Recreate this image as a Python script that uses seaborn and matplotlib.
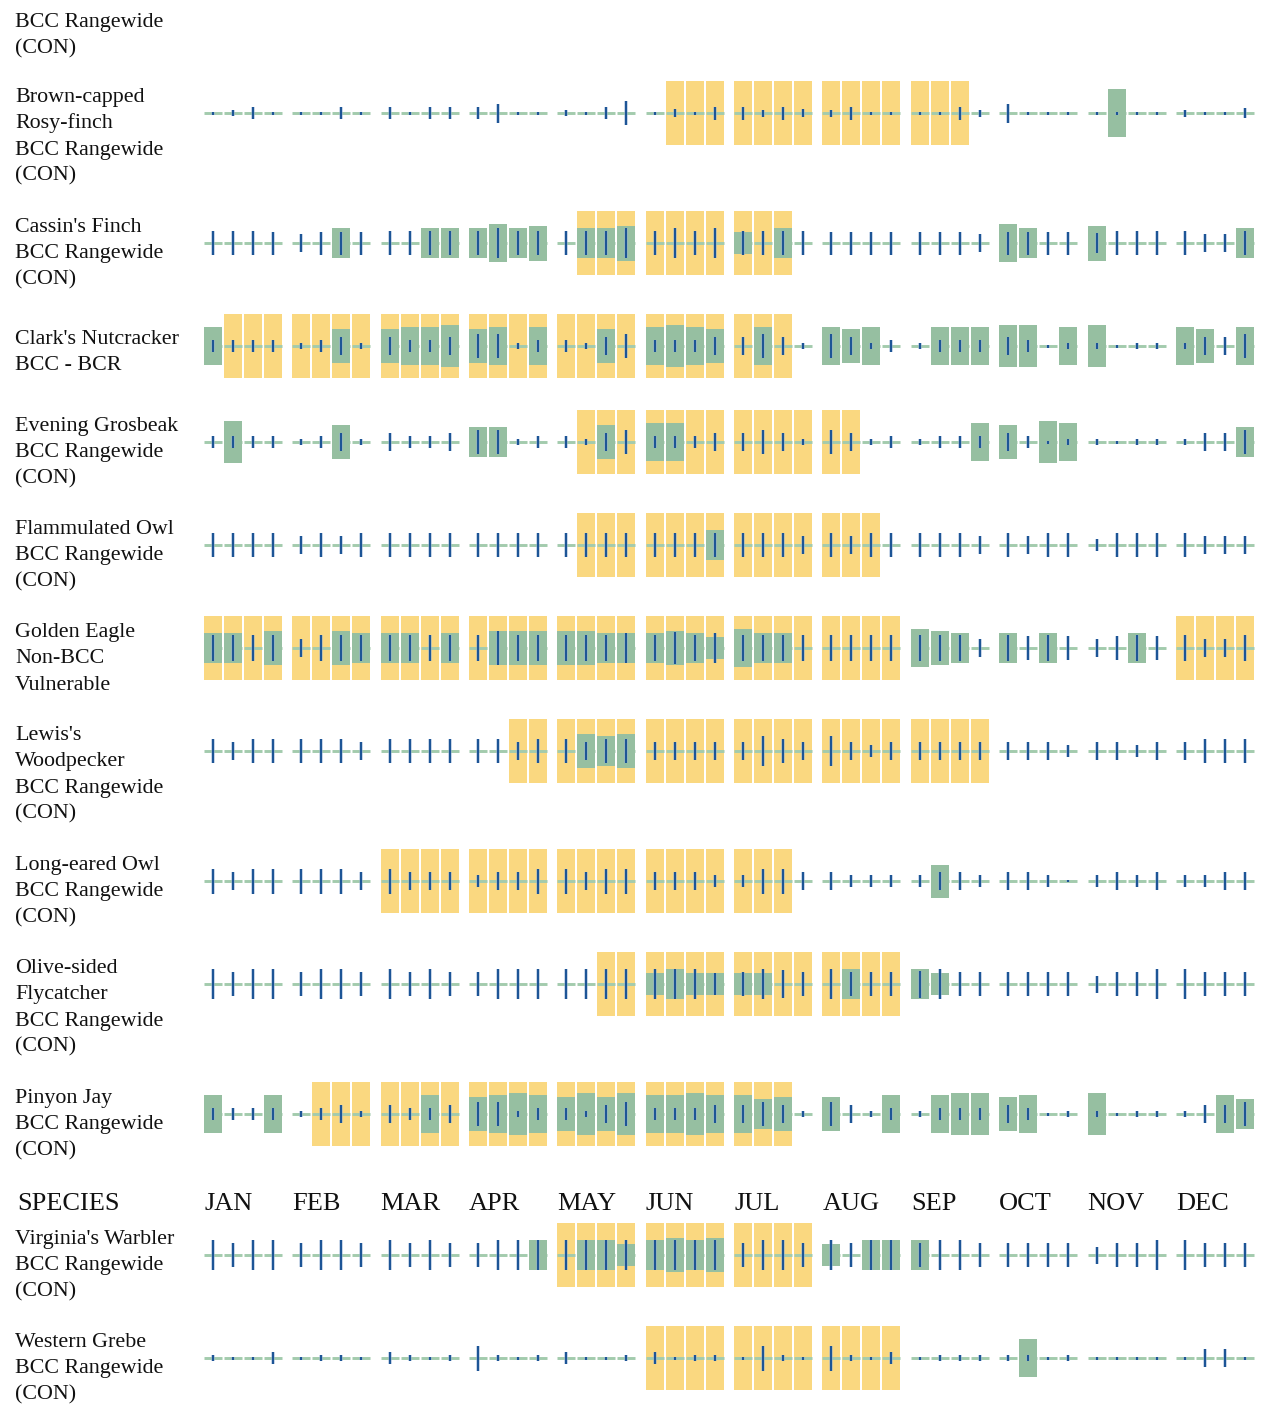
import numpy as np
import pandas as pd
import matplotlib
matplotlib.use("Agg")
import matplotlib.pyplot as plt
import seaborn as sns

# ---------------------------------------------------------------------------
# Data: 48 weeks per species (4 per month). Breeding = 1 marks breeding season,
# presence = height of the probability-of-presence bar, effort = survey-effort
# tick length (both on a 0..64 scale, 64 being the full cell height).
# ---------------------------------------------------------------------------
MONTHS = ["JAN", "FEB", "MAR", "APR", "MAY", "JUN",
          "JUL", "AUG", "SEP", "OCT", "NOV", "DEC"]

SPECIES_LABELS = [
    ["Brown-capped", "Rosy-finch", "BCC Rangewide", "(CON)"],
    ["Cassin's Finch", "BCC Rangewide", "(CON)"],
    ["Clark's Nutcracker", "BCC - BCR"],
    ["Evening Grosbeak", "BCC Rangewide", "(CON)"],
    ["Flammulated Owl", "BCC Rangewide", "(CON)"],
    ["Golden Eagle", "Non-BCC", "Vulnerable"],
    ["Lewis's", "Woodpecker", "BCC Rangewide", "(CON)"],
    ["Long-eared Owl", "BCC Rangewide", "(CON)"],
    ["Olive-sided", "Flycatcher", "BCC Rangewide", "(CON)"],
    ["Pinyon Jay", "BCC Rangewide", "(CON)"],
    ["Virginia's Warbler", "BCC Rangewide", "(CON)"],
    ["Western Grebe", "BCC Rangewide", "(CON)"],
]
CONTINUED_LABEL = ["BCC Rangewide", "(CON)"]

rosy_breeding = [0,0,0,0, 0,0,0,0, 0,0,0,0, 0,0,0,0, 0,0,0,0, 0,1,1,1,
                 1,1,1,1, 1,1,1,1, 1,1,1,0, 0,0,0,0, 0,0,0,0, 0,0,0,0]
rosy_presence = [0,0,0,0, 0,0,0,0, 0,0,0,0, 0,0,0,0, 0,0,0,0, 0,0,0,0,
                 0,0,0,0, 0,0,0,0, 0,0,0,0, 0,0,0,0, 0,48,0,0, 0,0,0,0]
rosy_effort = [3,6,12,3, 3,3,12,3, 12,3,12,12, 12,19,3,3, 6,3,12,24, 3,8,3,13,
               13,7,13,8, 7,13,3,3, 3,3,13,7, 19,3,3,3, 3,3,3,3, 7,3,3,10]

cassin_breeding = [0,0,0,0, 0,0,0,0, 0,0,0,0, 0,0,0,0, 0,1,1,1, 1,1,1,1,
                   1,1,1,0, 0,0,0,0, 0,0,0,0, 0,0,0,0, 0,0,0,0, 0,0,0,0]
cassin_presence = [0,0,0,0, 0,0,30,0, 0,0,30,30, 30,38,30,35, 0,30,30,35, 0,0,0,0,
                   22,0,30,0, 0,0,0,0, 0,0,0,0, 38,30,0,0, 35,0,0,0, 0,0,0,30]
cassin_effort = [24,24,24,23, 18,23,23,23, 24,24,24,24, 24,30,24,24, 24,24,24,30, 24,30,24,30,
                 24,24,24,24, 23,23,23,23, 23,23,23,18, 23,23,23,23, 20,24,24,24, 24,18,18,24]

clark_breeding = [0,1,1,1, 1,1,1,1, 1,1,1,1, 1,1,1,1, 1,1,1,1, 1,1,1,1,
                  1,1,1,0, 0,0,0,0, 0,0,0,0, 0,0,0,0, 0,0,0,0, 0,0,0,0]
clark_presence = [38,0,0,0, 0,0,34,0, 34,38,38,42, 34,38,0,38, 0,0,34,0, 38,42,38,34,
                  0,38,0,0, 38,34,38,0, 0,38,38,38, 42,42,0,38, 42,0,0,0, 38,34,0,38]
clark_effort = [12,12,12,12, 6,12,18,6, 18,12,12,18, 24,24,6,12, 12,6,18,24, 12,12,12,18,
                18,24,18,6, 24,18,6,12, 6,12,12,12, 18,12,3,6, 6,3,6,6, 6,18,18,24]

grosbeak_breeding = [0,0,0,0, 0,0,0,0, 0,0,0,0, 0,0,0,0, 0,1,1,1, 1,1,1,1,
                     1,1,1,1, 1,1,0,0, 0,0,0,0, 0,0,0,0, 0,0,0,0, 0,0,0,0]
grosbeak_presence = [0,42,0,0, 0,0,34,0, 0,0,0,0, 30,30,0,0, 0,0,34,0, 38,38,0,0,
                     0,0,0,0, 0,0,0,0, 0,0,0,38, 34,0,42,38, 0,0,0,0, 0,0,0,30]
grosbeak_effort = [12,12,12,12, 6,12,18,6, 18,12,12,18, 24,24,6,12, 12,6,18,24, 12,12,12,18,
                   18,24,18,6, 24,18,6,12, 6,12,12,12, 18,12,3,6, 6,3,6,6, 6,18,18,24]

owl_f_breeding = [0,0,0,0, 0,0,0,0, 0,0,0,0, 0,0,0,0, 0,1,1,1, 1,1,1,1,
                  1,1,1,1, 1,1,1,0, 0,0,0,0, 0,0,0,0, 0,0,0,0, 0,0,0,0]
owl_f_presence = [0,0,0,0, 0,0,0,0, 0,0,0,0, 0,0,0,0, 0,0,0,0, 0,0,0,30,
                  0,0,0,0, 0,0,0,0, 0,0,0,0, 0,0,0,0, 0,0,0,0, 0,0,0,0]
owl_f_effort = [24,24,24,24, 18,24,18,24, 24,24,24,24, 24,24,24,24, 24,24,24,24, 24,24,24,24,
                24,24,24,18, 24,18,24,24, 24,24,24,18, 24,18,24,24, 12,24,24,24, 24,18,18,18]

eagle_breeding = [1,1,1,1, 1,1,1,1, 1,1,1,1, 1,1,1,1, 1,1,1,1, 1,1,1,1,
                  1,1,1,1, 1,1,1,1, 0,0,0,0, 0,0,0,0, 0,0,0,0, 1,1,1,1]
eagle_presence = [30,30,0,34, 0,0,34,30, 30,30,0,30, 0,34,34,34, 34,34,30,30, 30,34,30,22,
                  38,30,30,0, 0,0,0,0, 38,34,30,0, 30,0,30,0, 0,0,30,0, 0,0,0,0]
eagle_effort = [26,26,26,26, 18,26,26,26, 26,26,26,26, 26,34,26,26, 26,26,26,30, 26,32,26,30,
                26,26,26,26, 26,26,26,26, 26,26,26,18, 26,24,26,24, 18,24,26,24, 26,18,18,26]

lewis_breeding = [0,0,0,0, 0,0,0,0, 0,0,0,0, 0,0,1,1, 1,1,1,1, 1,1,1,1,
                  1,1,1,1, 1,1,1,1, 1,1,1,1, 0,0,0,0, 0,0,0,0, 0,0,0,0]
lewis_presence = [0,0,0,0, 0,0,0,0, 0,0,0,0, 0,0,0,0, 0,34,30,34, 0,0,0,0,
                  0,0,0,0, 0,0,0,0, 0,0,0,0, 0,0,0,0, 0,0,0,0, 0,0,0,0]
lewis_effort = [24,18,24,24, 24,24,24,18, 24,24,24,24, 24,24,18,24, 24,18,24,24, 18,18,18,18,
                18,30,24,18, 30,18,12,18, 18,18,18,18, 18,18,18,12, 18,18,12,18, 18,24,24,24]

owl_le_breeding = [0,0,0,0, 0,0,0,0, 1,1,1,1, 1,1,1,1, 1,1,1,1, 1,1,1,1,
                   1,1,1,0, 0,0,0,0, 0,0,0,0, 0,0,0,0, 0,0,0,0, 0,0,0,0]
owl_le_presence = [0,0,0,0, 0,0,0,0, 0,0,0,0, 0,0,0,0, 0,0,0,0, 0,0,0,0,
                   0,0,0,0, 0,0,0,0, 0,33,0,0, 0,0,0,0, 0,0,0,0, 0,0,0,0]
owl_le_effort = [25,18,25,25, 25,25,25,18, 25,18,18,18, 12,18,18,25, 25,18,25,25, 18,18,18,12,
                 12,25,25,18, 18,12,12,12, 12,18,18,12, 18,18,12,2, 12,18,12,18, 12,12,18,18]

olive_breeding = [0,0,0,0, 0,0,0,0, 0,0,0,0, 0,0,0,0, 0,0,1,1, 1,1,1,1,
                  1,1,1,1, 1,1,1,1, 0,0,0,0, 0,0,0,0, 0,0,0,0, 0,0,0,0]
olive_presence = [0,0,0,0, 0,0,0,0, 0,0,0,0, 0,0,0,0, 0,0,0,0, 22,30,22,22,
                  22,22,0,0, 0,30,0,0, 30,22,0,0, 0,0,0,0, 0,0,0,0, 0,0,0,0]
olive_effort = [30,24,30,30, 24,30,30,24, 30,24,30,24, 24,30,30,30, 30,30,30,30, 30,30,30,22,
                24,30,28,24, 30,24,24,24, 27,30,24,24, 24,24,24,24, 17,24,24,30, 30,24,24,24]

pinyon_breeding = [0,0,0,0, 0,1,1,1, 1,1,1,1, 1,1,1,1, 1,1,1,1, 1,1,1,1,
                   1,1,1,0, 0,0,0,0, 0,0,0,0, 0,0,0,0, 0,0,0,0, 0,0,0,0]
pinyon_presence = [38,0,0,38, 0,0,0,0, 0,0,38,0, 34,38,42,38, 34,42,34,42, 38,38,42,38,
                   38,30,34,0, 34,0,0,38, 0,38,42,42, 34,38,0,0, 42,0,0,0, 0,0,38,30]
pinyon_effort = [12,12,12,12, 6,12,18,6, 18,12,12,18, 24,24,6,12, 12,6,18,24, 12,12,12,18,
                 18,24,18,6, 24,18,6,12, 6,12,12,12, 18,12,3,6, 6,3,6,6, 6,18,18,24]

warbler_breeding = [0,0,0,0, 0,0,0,0, 0,0,0,0, 0,0,0,0, 1,1,1,1, 1,1,1,1,
                    1,1,1,1, 0,0,0,0, 0,0,0,0, 0,0,0,0, 0,0,0,0, 0,0,0,0]
warbler_presence = [0,0,0,0, 0,0,0,0, 0,0,0,0, 0,0,0,30, 0,30,30,22, 30,34,30,34,
                    0,0,0,0, 22,0,30,30, 30,0,0,0, 0,0,0,0, 0,0,0,0, 0,0,0,0]
warbler_effort = [30,24,30,30, 24,30,30,24, 30,24,30,24, 24,30,30,30, 30,30,30,30, 30,30,30,30,
                  24,30,30,24, 30,24,30,30, 24,30,30,24, 24,24,24,24, 17,24,24,30, 30,24,24,24]

grebe_breeding = [0,0,0,0, 0,0,0,0, 0,0,0,0, 0,0,0,0, 0,0,0,0, 1,1,1,1,
                  1,1,1,1, 1,1,1,1, 0,0,0,0, 0,0,0,0, 0,0,0,0, 0,0,0,0]
grebe_presence = [0,0,0,0, 0,0,0,0, 0,0,0,0, 0,0,0,0, 0,0,0,0, 0,0,0,0,
                  0,0,0,0, 0,0,0,0, 0,0,0,0, 0,38,0,0, 0,0,0,0, 0,0,0,0]
grebe_effort = [6,3,3,12, 3,6,6,3, 12,6,3,6, 25,6,3,6, 12,3,3,6, 12,3,6,6,
                3,25,6,3, 25,6,3,12, 3,6,6,6, 6,6,3,6, 3,3,3,3, 3,18,18,3]

BREEDING = [rosy_breeding, cassin_breeding, clark_breeding, grosbeak_breeding,
            owl_f_breeding, eagle_breeding, lewis_breeding, owl_le_breeding,
            olive_breeding, pinyon_breeding, warbler_breeding, grebe_breeding]
PRESENCE = [rosy_presence, cassin_presence, clark_presence, grosbeak_presence,
            owl_f_presence, eagle_presence, lewis_presence, owl_le_presence,
            olive_presence, pinyon_presence, warbler_presence, grebe_presence]
EFFORT = [rosy_effort, cassin_effort, clark_effort, grosbeak_effort,
          owl_f_effort, eagle_effort, lewis_effort, owl_le_effort,
          olive_effort, pinyon_effort, warbler_effort, grebe_effort]

# ---------------------------------------------------------------------------
# Layout (pixels on a 1262 x 1406 canvas)
# ---------------------------------------------------------------------------
W, H, DPI = 1262, 1406, 100
ROW_CENTER_Y = [113, 243, 346, 442, 545, 648, 751, 881, 984, 1114, 1255, 1358]
LABEL_BASELINE_Y = [102, 232, 344, 431, 534, 637, 740, 870, 973, 1103, 1244, 1347]
HEADER_BASELINE_Y = 1210
LINE_STEP = 26.3
LABEL_X = 15
LABEL_SIZE = 15.8
HEADER_SIZE = 19.0
GRID_X0 = 204          # left edge of the first week cell
WEEK_PX = 20           # one week step
MONTH_PX = 88.35       # one month step
CELL_H = 64            # full height of a breeding-season cell
AX_X0, AX_X1 = 200, 1260
AX_HALF = 36

YELLOW = "#fad880"
GREEN = "#96bfa1"
LINE_GREEN = "#a3cbad"
BLUE = "#1d5596"

sns.set_theme(style="white")
plt.rcParams["font.family"] = ["Liberation Serif", "DejaVu Serif"]

week_idx = np.arange(48)
month_idx = week_idx // 4
week_left = (month_idx * MONTH_PX + (week_idx % 4) * WEEK_PX) / WEEK_PX   # in week units
cell_w = 0.9
week_center = week_left + cell_w / 2

fig = plt.figure(figsize=(W / DPI, H / DPI), dpi=DPI)
fig.patch.set_facecolor("white")


def px_text(x, y, s, size, **kw):
    fig.text(x / W, 1 - y / H, s, fontsize=size, color="#111111",
             va="baseline", ha="left", **kw)


def centered_bars(ax, x, heights, color, z):
    """Draw seaborn bars and shift them so each is centred on y = 0."""
    n_before = len(ax.patches)
    sns.barplot(x=x, y=heights, native_scale=True, width=cell_w, color=color,
                saturation=1, errorbar=None, linewidth=0, ax=ax, zorder=z)
    for p in ax.patches[n_before:]:
        h = p.get_height()
        p.set_y(-h / 2)
        p.set_zorder(z)


for i, labels in enumerate(SPECIES_LABELS):
    cy = ROW_CENTER_Y[i]
    ax = fig.add_axes([AX_X0 / W, 1 - (cy + AX_HALF) / H,
                       (AX_X1 - AX_X0) / W, 2 * AX_HALF / H])
    df = pd.DataFrame({
        "x": week_center,
        "left": week_left,
        "breeding": np.array(BREEDING[i]) * CELL_H,
        "presence": PRESENCE[i],
        "effort": EFFORT[i],
    })

    # breeding season background
    centered_bars(ax, df["x"], df["breeding"], YELLOW, 1)
    # thin baseline dash across each week
    ax.hlines(np.zeros(len(df)), df["left"], df["left"] + cell_w,
              colors=LINE_GREEN, linewidth=2.1, zorder=2)
    # probability of presence
    centered_bars(ax, df["x"], df["presence"], GREEN, 3)
    # survey effort ticks
    eff = df["effort"].to_numpy()
    ax.vlines(df["x"], -eff / 2, eff / 2, colors="#9db6d6", linewidth=2.6,
              alpha=0.6, zorder=4)
    ax.vlines(df["x"], -eff / 2, eff / 2, colors=BLUE, linewidth=1.5, zorder=5)

    ax.set_xlim((AX_X0 - GRID_X0) / WEEK_PX, (AX_X1 - GRID_X0) / WEEK_PX)
    ax.set_ylim(-AX_HALF, AX_HALF)
    ax.axis("off")

    for k, line in enumerate(labels):
        px_text(LABEL_X, LABEL_BASELINE_Y[i] + k * LINE_STEP, line, LABEL_SIZE)

# continuation of the species label from the previous page
for k, line in enumerate(CONTINUED_LABEL):
    px_text(LABEL_X, 26.7 + k * LINE_STEP, line, LABEL_SIZE)

# column header row
px_text(17, HEADER_BASELINE_Y, "SPECIES", HEADER_SIZE)
for m, name in enumerate(MONTHS):
    px_text(GRID_X0 + m * MONTH_PX, HEADER_BASELINE_Y, name, HEADER_SIZE)

fig.savefig("out.png", dpi=DPI, facecolor="white")
